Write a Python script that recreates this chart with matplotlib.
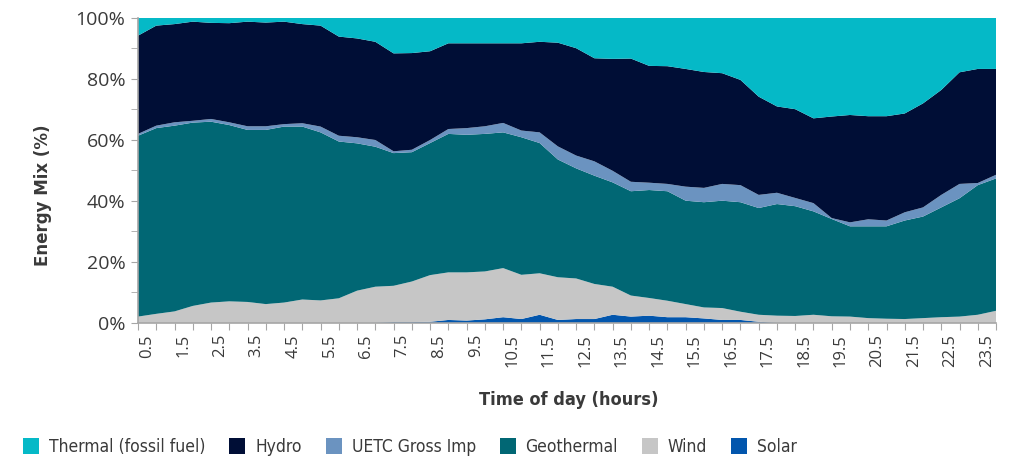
import numpy as np
import matplotlib
matplotlib.use("Agg")
import matplotlib.pyplot as plt
from matplotlib.patches import Patch

# half-hour intervals through the day
hours = np.arange(0.5, 24.01, 0.5)
tick_labels = ['0.5', '1.5', '2.5', '3.5', '4.5', '5.5', '6.5', '7.5', '8.5', '9.5',
               '10.5', '11.5', '12.5', '13.5', '14.5', '15.5', '16.5', '17.5',
               '18.5', '19.5', '20.5', '21.5', '22.5', '23.5']

# shares (%), bottom of the stack first
solar = [0, 0, 0, 0, 0, 0, 0, 0, 0, 0, 0, 0, 0, 0.1, 0.3, 0.3, 0.4, 1.0, 0.8, 1.2,
         1.9, 1.3, 2.7, 1.0, 1.3, 1.3, 2.7, 2.1, 2.4, 1.9, 1.9, 1.5, 1.0, 1.0, 0.4, 0.1,
         0, 0, 0, 0, 0, 0, 0, 0, 0, 0, 0, 0]
wind = [2.1, 3.0, 3.8, 5.6, 6.7, 7.1, 6.9, 6.2, 6.7, 7.7, 7.4, 8.1, 10.6, 11.8, 11.9,
        13.3, 15.3, 15.6, 15.8, 15.7, 16.1, 14.5, 13.6, 14.0, 13.3, 11.5, 9.2, 6.9,
        5.8, 5.4, 4.3, 3.6, 3.9, 2.7, 2.3, 2.3, 2.3, 2.7, 2.2, 2.1, 1.6, 1.4, 1.3,
        1.6, 1.9, 2.1, 2.7, 4.0]
geothermal = [59.3, 60.9, 60.9, 60.1, 59.3, 57.8, 56.4, 57.1, 57.7, 56.7, 55.1, 51.4,
              48.3, 45.9, 43.5, 42.4, 43.3, 45.4, 45.1, 45.1, 44.5, 45.1, 42.7, 38.6,
              36.1, 35.5, 34.2, 34.2, 35.4, 35.9, 33.9, 34.5, 35.2, 35.9, 35.0, 36.6,
              36.0, 33.9, 31.9, 29.6, 30.1, 30.3, 32.3, 33.3, 36.0, 38.8, 42.5, 43.4]
uetc = [0.6, 0.8, 1.1, 0.6, 0.9, 0.9, 1.2, 1.2, 0.8, 1.1, 1.9, 1.9, 2.0, 2.2, 0.6, 0.8,
        1.0, 1.6, 2.2, 2.5, 3.1, 2.2, 3.5, 4.3, 4.2, 4.7, 3.8, 3.1, 2.4, 2.4, 4.6, 4.7,
        5.5, 5.6, 4.3, 3.7, 2.7, 2.7, 0.3, 1.3, 2.3, 1.9, 2.7, 3.0, 4.1, 4.7, 0.7, 1.2]
hydro = [32.2, 32.8, 32.2, 32.5, 31.5, 32.5, 34.3, 34.0, 33.6, 32.5, 33.1, 32.5, 32.4,
         32.2, 32.1, 31.7, 29.1, 28.1, 27.8, 27.2, 26.1, 28.6, 29.7, 34.0, 35.2, 33.8,
         36.7, 40.4, 38.3, 38.6, 38.6, 38.0, 36.3, 34.5, 32.2, 28.3, 29.1, 27.8, 33.3,
         35.2, 33.8, 34.2, 32.4, 34.1, 34.4, 36.6, 37.4, 34.7]
thermal = [5.8, 2.5, 2.0, 1.2, 1.6, 1.7, 1.2, 1.5, 1.2, 2.0, 2.5, 6.1, 6.7, 7.8, 11.6,
           11.5, 10.9, 8.3, 8.3, 8.3, 8.3, 8.3, 7.8, 8.1, 9.9, 13.2, 13.4, 13.3, 15.7,
           15.8, 16.7, 17.7, 18.1, 20.3, 25.8, 29.0, 29.9, 32.9, 32.3, 31.8, 32.2, 32.2,
           31.3, 28.0, 23.6, 17.8, 16.7, 16.7]

names = ['Thermal (fossil fuel)', 'Hydro', 'UETC Gross Imp', 'Geothermal', 'Wind', 'Solar']
colors = {'Thermal (fossil fuel)': '#05B9C7', 'Hydro': '#000E36', 'UETC Gross Imp': '#6B93C0',
          'Geothermal': '#016774', 'Wind': '#C6C6C6', 'Solar': '#0256AD'}

text_col = '#3A3A3A'
axis_col = '#A6A6A6'

fig = plt.figure(figsize=(10.11, 4.59), dpi=100)
ax = fig.add_axes([0.1365, 0.2963, 0.8487, 0.6645])

stack = [solar, wind, geothermal, uetc, hydro, thermal]
order = ['Solar', 'Wind', 'Geothermal', 'UETC Gross Imp', 'Hydro', 'Thermal (fossil fuel)']
ax.stackplot(hours, *[np.array(s) for s in stack],
             colors=[colors[n] for n in order], linewidth=0)

ax.set_xlim(hours[0], hours[-1])
ax.set_ylim(0, 100)

# y axis
ax.set_yticks(np.arange(0, 101, 20))
ax.set_yticks(np.arange(10, 100, 20), minor=True)
ax.set_yticklabels([f'{v}%' for v in range(0, 101, 20)], fontsize=14,
                   family='Open Sans', color=text_col)
ax.tick_params(axis='y', which='both', direction='out', length=5, color=axis_col, pad=4)

# x axis: tick at every half hour, labels sit between ticks
ax.set_xticks(hours)
ax.set_xticklabels([])
ax.tick_params(axis='x', which='major', direction='out', length=5, color=axis_col)
ax.set_xticks(np.arange(0.75, 24, 1.0), minor=True)
ax.set_xticklabels(tick_labels, minor=True, rotation=90, fontsize=12,
                   family='Open Sans', color=text_col)
ax.tick_params(axis='x', which='minor', length=0, pad=8)

for side in ['top', 'right']:
    ax.spines[side].set_visible(False)
for side in ['left', 'bottom']:
    ax.spines[side].set_color(axis_col)
    ax.spines[side].set_linewidth(1.2)

fig.text(43 / 1011, 1 - 195 / 459, 'Energy Mix (%)', rotation=90, ha='center', va='center',
         fontsize=12, fontweight='bold', color=text_col, family='DejaVu Sans')
fig.text(569 / 1011, 1 - 400 / 459, 'Time of day (hours)', ha='center', va='center',
         fontsize=13, fontweight='bold', color=text_col, family='DejaVu Sans',
         stretch='condensed')

handles = [Patch(facecolor=colors[n], edgecolor='none') for n in names]
leg = fig.legend(handles, names, loc='center left', bbox_to_anchor=(23 / 1011, 1 - 447 / 459),
                 ncol=6, frameon=False, borderpad=0, borderaxespad=0,
                 handlelength=0.92, handleheight=0.98, handletextpad=0.57,
                 columnspacing=1.38,
                 prop={'family': 'DejaVu Sans', 'stretch': 'condensed', 'size': 12.5})
for t in leg.get_texts():
    t.set_color(text_col)

fig.savefig('out.png', dpi=100)
